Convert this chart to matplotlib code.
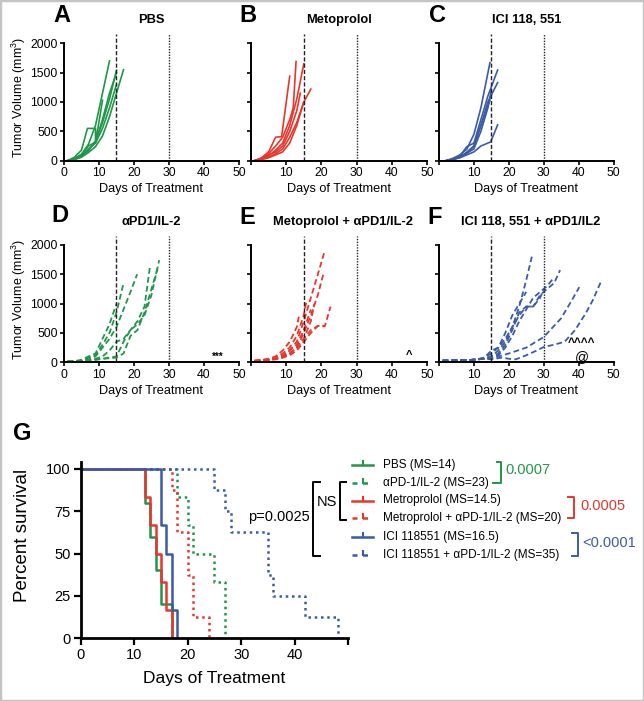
import matplotlib
matplotlib.use("Agg")
import matplotlib.pyplot as plt
from matplotlib.lines import Line2D
from matplotlib.patches import Rectangle

plt.rcParams['font.family'] = ['Liberation Sans', 'DejaVu Sans']
plt.rcParams['mathtext.fontset'] = 'custom'
plt.rcParams['mathtext.rm'] = 'Liberation Sans'

GREEN = '#21964a'
RED = '#e8362d'
BLUE = '#3b5ba5'

# ---------------- tumor growth data (days, volume mm3) ----------------
pbs_days = [[1, 3, 5, 7, 9, 11, 13],
            [1, 3, 5, 7, 9, 11, 13, 15],
            [1, 3, 5, 7, 9, 11, 13, 15, 17],
            [1, 3, 5, 6.7, 9, 9, 11],
            [1, 3, 5, 7, 9, 11, 13, 15],
            [1, 3, 5, 7, 9, 11, 13, 15]]
pbs_vol = [[0, 40, 110, 280, 600, 1150, 1700],
           [0, 30, 90, 170, 330, 650, 1050, 1540],
           [0, 20, 60, 140, 240, 420, 750, 1150, 1550],
           [0, 60, 180, 550, 550, 300, 1030],
           [0, 20, 70, 200, 300, 550, 900, 1300],
           [0, 30, 100, 250, 320, 700, 1150, 1500]]

meto_days = [[1, 3, 5, 7, 9, 11, 12, 12.8],
             [1, 3, 5, 7, 9, 11, 13, 15],
             [1, 3, 5, 7, 8.7, 11],
             [1, 3, 5, 7, 9, 11, 13, 15, 17],
             [1, 3, 5, 7, 9, 11, 13, 15],
             [1, 3, 5, 7, 9, 11, 13, 14]]
meto_vol = [[0, 40, 120, 250, 400, 700, 900, 1690],
            [0, 30, 80, 180, 300, 600, 1050, 1650],
            [0, 50, 150, 400, 410, 1440],
            [0, 20, 60, 120, 200, 400, 650, 1000, 1220],
            [0, 20, 50, 100, 150, 300, 600, 1000],
            [0, 30, 100, 150, 250, 500, 850, 1150]]

ici_days = [[2, 4, 6, 8, 10, 12, 14.6],
            [2, 4, 6, 8, 10, 12, 14, 16.8],
            [2, 4, 6, 8, 10, 12, 14, 16.8],
            [2, 4, 6, 8, 10, 12, 14.8, 16.8],
            [2, 4, 6, 8, 10, 12, 14.6],
            [2, 4, 6, 8, 10, 12, 14, 15]]
ici_vol = [[0, 40, 100, 200, 450, 900, 1670],
           [0, 30, 80, 240, 300, 700, 1100, 1545],
           [0, 20, 60, 150, 250, 600, 1000, 1330],
           [0, 20, 50, 100, 150, 250, 320, 610],
           [0, 30, 80, 120, 250, 600, 1030],
           [0, 20, 60, 130, 200, 500, 900, 1200]]

pd_days = [[1, 3, 5, 7, 9, 11, 13, 15, 16.9],
           [1, 3, 5, 7, 9, 11, 13, 15, 17, 19, 20.9],
           [1, 3, 5, 7, 9, 11, 13, 15, 17, 19, 21, 23, 24.6],
           [1, 3, 5, 7, 9, 11, 13, 15, 17, 19, 21, 23, 25, 27.2],
           [1, 3, 5, 7, 9, 11, 13, 15, 17, 19, 21, 23, 25, 27],
           [1, 3, 5, 7, 9, 11, 13, 15]]
pd_vol = [[20, 20, 30, 80, 120, 300, 500, 850, 1320],
          [10, 20, 30, 50, 100, 250, 400, 600, 900, 1200, 1500],
          [10, 15, 20, 40, 60, 100, 200, 350, 400, 550, 700, 950, 1650],
          [10, 10, 20, 30, 40, 60, 80, 100, 350, 550, 650, 800, 1150, 1740],
          [10, 10, 20, 30, 50, 60, 70, 80, 150, 450, 550, 850, 1250, 1650],
          [10, 20, 40, 100, 150, 400, 650, 1000]]

mpd_days = [[1, 3, 5, 7, 9, 11, 13, 15, 17, 19, 21],
            [1, 3, 5, 7, 9, 11, 13, 15, 17, 19, 20.5],
            [1, 3, 5, 7, 9, 11, 13, 15, 17, 19, 21, 22.6],
            [1, 3, 5, 7, 9, 11, 13, 15, 17, 19, 21],
            [1, 3, 5, 7, 9, 11, 13, 13.7],
            [1, 3, 5, 7, 9, 11, 13, 15, 15.8],
            [1, 3, 5, 7, 9, 11, 13, 15, 17],
            [1, 3, 5, 7, 9, 11, 13, 15, 17, 18]]
mpd_vol = [[30, 40, 50, 80, 120, 200, 350, 700, 1100, 1500, 1910],
           [20, 30, 40, 60, 100, 150, 250, 500, 800, 1150, 1490],
           [20, 30, 40, 50, 80, 120, 200, 350, 500, 620, 620, 950],
           [20, 30, 40, 60, 80, 150, 250, 400, 550, 620, 610],
           [30, 40, 60, 100, 200, 350, 600, 810],
           [20, 30, 50, 80, 150, 250, 450, 800, 1060],
           [20, 30, 40, 60, 100, 200, 300, 550, 900],
           [20, 30, 40, 60, 90, 150, 250, 400, 700, 1000]]

ipd_days = [[1, 3, 5, 7, 9, 11, 13, 15, 17, 19, 21, 23, 25, 26.6],
            [1, 3, 5, 7, 9, 11, 13, 15, 17, 19, 21, 23, 25, 27, 29, 31, 33, 34.7],
            [1, 3, 5, 7, 9, 11, 13, 15, 17, 19, 21, 23, 25, 27, 29, 31, 33],
            [1, 3, 5, 7, 9, 11, 13, 15, 17, 19, 21, 23, 25, 27, 29, 30],
            [1, 3, 5, 7, 9, 11, 13, 15, 17, 20, 25, 30, 35, 38, 40.2],
            [1, 3, 5, 7, 9, 11, 13, 15, 18, 20, 22, 25, 28, 30, 33, 36, 39, 42, 44, 46.6],
            [1, 3, 5, 7, 9, 11, 13, 15, 17, 19, 21, 23, 25]]
ipd_vol = [[30, 30, 40, 40, 40, 50, 60, 100, 200, 350, 600, 950, 1400, 1800],
           [30, 30, 40, 40, 40, 50, 60, 100, 150, 300, 550, 850, 950, 950, 1150, 1250, 1350, 1570],
           [30, 30, 30, 40, 40, 50, 60, 80, 120, 250, 450, 700, 900, 1100, 1200, 1300, 1450],
           [30, 30, 30, 40, 40, 50, 80, 200, 250, 400, 600, 800, 950, 950, 1100, 1250],
           [20, 30, 30, 40, 40, 50, 60, 60, 100, 150, 250, 430, 750, 1050, 1280],
           [20, 30, 30, 30, 40, 50, 60, 50, 80, 60, 50, 120, 200, 260, 300, 350, 550, 830, 1050, 1400],
           [30, 30, 40, 40, 40, 50, 80, 150, 250, 500, 800, 1000, 1200]]

# ---------------- survival data ----------------
surv_groups = ['PBS (MS=14)', 'αPD-1/IL-2 (MS=23)', 'Metroprolol (MS=14.5)',
               'Metroprolol + αPD-1/IL-2 (MS=20)', 'ICI 118551 (MS=16.5)',
               'ICI 118551 + αPD-1/IL-2 (MS=35)']
pbs_t = [0, 12, 13, 14, 15, 17]
pbs_s = [100, 80, 60, 40, 20, 0]
pd_t = [0, 18, 20, 21, 25, 27]
pd_s = [100, 83.3, 66.7, 50, 33.3, 0]
meto_t = [0, 12, 13, 14, 15, 16, 17]
meto_s = [100, 83.3, 66.7, 50, 33.3, 16.7, 0]
mpd_t = [0, 17, 18, 20, 21, 24]
mpd_s = [100, 87.5, 62.5, 37.5, 12.5, 0]
ici_t = [0, 15, 16, 17, 18]
ici_s = [100, 66.7, 50, 16.7, 0]
ipd_t = [0, 25, 27, 28, 35, 36, 42, 48]
ipd_s = [100, 87.5, 75, 62.5, 37.5, 25, 12.5, 0]

# ---------------- figure ----------------
W, H = 644, 701
fig = plt.figure(figsize=(W / 100, H / 100), dpi=100)


def ax_px(l, r, y0, ytop):
    return fig.add_axes([l / W, 1 - y0 / H, (r - l) / W, (y0 - ytop) / H])


YMAX = 2150
row1_y0, row2_y0 = 160.7, 362.3
ppu = 117.4 / 2000
cols = [(64, 239), (251, 427), (439, 613.5)]

panels = [
    ('A', 'PBS', pbs_days, pbs_vol, GREEN, '-', 0, 0),
    ('B', 'Metoprolol', meto_days, meto_vol, RED, '-', 0, 1),
    ('C', 'ICI 118, 551', ici_days, ici_vol, BLUE, '-', 0, 2),
    ('D', 'αPD1/IL-2', pd_days, pd_vol, GREEN, '--', 1, 0),
    ('E', 'Metoprolol + αPD1/IL-2', mpd_days, mpd_vol, RED, '--', 1, 1),
    ('F', 'ICI 118, 551 + αPD1/IL2', ipd_days, ipd_vol, BLUE, '--', 1, 2),
]

letter_pos = {'A': (62, 15), 'B': (248, 15), 'C': (437, 15),
              'D': (60, 216), 'E': (247, 218), 'F': (435, 218)}
title_y = {0: 20, 1: 222}

axes = {}
for letter, title, days, vols, col, ls, row, c in panels:
    l, r = cols[c]
    y0 = row1_y0 if row == 0 else row2_y0
    ax = ax_px(l, r, y0, y0 - YMAX * ppu)
    axes[letter] = ax
    for d, v in zip(days, vols):
        if ls == '-':
            ax.plot(d, v, color=col, lw=1.2, solid_joinstyle='round')
        else:
            ax.plot(d, v, color=col, lw=1.3, dashes=(3.2, 1.8))
    ax.axvline(15, color='#222222', lw=1.0, dashes=(3, 1.5))
    ax.axvline(30, color='#222222', lw=1.0, dashes=(1, 1))
    ax.set_xlim(0, 50)
    ax.set_ylim(0, YMAX)
    for s in ('top', 'right'):
        ax.spines[s].set_visible(False)
    ax.spines['left'].set_bounds(0, 2000)
    for s in ('left', 'bottom'):
        ax.spines[s].set_linewidth(1.4)
    ax.set_yticks([0, 500, 1000, 1500, 2000])
    ax.set_xticks([0, 10, 20, 30, 40, 50])
    ax.tick_params(direction='out', length=3, width=1.2, labelsize=8.8, pad=1.5)
    if c == 0:
        ax.set_ylabel('Tumor Volume (mm$^3$)', fontsize=9, labelpad=2)
    else:
        ax.set_yticklabels([])
        ax.set_xticklabels(['', '10', '20', '30', '40', '50'])
    ax.set_xlabel('Days of Treatment', fontsize=9.2, labelpad=3)
    cx = (l + r) / 2 + (4 if row == 1 and c > 0 else 0)
    fig.text(cx / W, 1 - title_y[row] / H, title, fontsize=9.3, fontweight='bold',
             ha='center', va='center')
    lx, ly = letter_pos[letter]
    fig.text(lx / W, 1 - ly / H, letter, fontsize=17, fontweight='bold',
             ha='center', va='center')

axes['D'].text(44, 95, '***', fontsize=7, fontweight='bold', ha='center', va='center')
axes['E'].text(44.9, 130, '^', fontsize=8, fontweight='bold', ha='center', va='center')
axes['F'].text(40.9, 280, '^^^^', fontsize=8.5, fontweight='bold', ha='center', va='baseline')
axes['F'].text(40.9, 30, '@', fontsize=10, ha='center', va='baseline')

# ---------------- panel G ----------------
axg = ax_px(80.7, 348.2, 638, 638 - 104 * 1.69)
dot = (1, 1.5)
axg.step(pd_t, pd_s, where='post', color=GREEN, lw=1.8, dashes=dot)
axg.step(mpd_t, mpd_s, where='post', color=RED, lw=1.8, dashes=dot)
axg.step(ipd_t, ipd_s, where='post', color=BLUE, lw=1.8, dashes=dot)
axg.step(pbs_t, pbs_s, where='post', color=GREEN, lw=1.8)
axg.step(meto_t, meto_s, where='post', color=RED, lw=1.8)
axg.step(ici_t, ici_s, where='post', color=BLUE, lw=1.8)
axg.set_xlim(0, 50)
axg.set_ylim(0, 104)
for s in ('top', 'right'):
    axg.spines[s].set_visible(False)
for s in ('left', 'bottom'):
    axg.spines[s].set_linewidth(2)
axg.set_xticks([0, 10, 20, 30, 40, 50])
axg.set_xticklabels(['0', '10', '20', '30', '40', ''])
axg.set_yticks([0, 25, 50, 75, 100])
axg.tick_params(direction='out', length=5, width=1.6, labelsize=10.5, pad=2)
axg.set_xlabel('Days of Treatment', fontsize=12.5, labelpad=7)
axg.set_ylabel('Percent survival', fontsize=13.5)
axg.yaxis.set_label_coords(-0.185, 0.585)
fig.text(22 / W, 1 - 433 / H, 'G', fontsize=17, fontweight='bold', ha='center', va='center')

# legend (drawn in figure pixel coordinates)
leg_y = [465, 483, 500.5, 518, 537, 555]
leg_col = [GREEN, GREEN, RED, RED, BLUE, BLUE]
leg_dot = [False, True, False, True, False, True]


def fline(xs, ys, **kw):
    fig.add_artist(Line2D([x / W for x in xs], [1 - y / H for y in ys],
                          transform=fig.transFigure, **kw))


for y, col, dotted, lab in zip(leg_y, leg_col, leg_dot, surv_groups):
    if dotted:
        fline([352, 373], [y, y], color=col, lw=1.8, dashes=(2, 2.2))
    else:
        fline([352, 373], [y, y], color=col, lw=1.8)
    fline([362.5, 362.5], [y, y - 4], color=col, lw=1.5)
    fig.text(383 / W, 1 - y / H, lab, fontsize=8.5, ha='left', va='center')

# brackets
fline([497, 501, 501, 493], [462, 462, 483, 483], color=GREEN, lw=1.4)
fig.text(505 / W, 1 - 470 / H, '0.0007', fontsize=10.5, color=GREEN, ha='left', va='center')
fline([568, 574, 574, 568], [497, 497, 518, 518], color=RED, lw=1.4)
fig.text(580 / W, 1 - 506 / H, '0.0005', fontsize=10.5, color=RED, ha='left', va='center')
fline([572, 578, 578, 572], [533, 533, 556, 556], color=BLUE, lw=1.4)
fig.text(582 / W, 1 - 543 / H, '<0.0001', fontsize=10.5, color=BLUE, ha='left', va='center')
fline([346, 340, 340, 346], [482, 482, 520, 520], color='black', lw=1.4)
fig.text(327 / W, 1 - 502 / H, 'NS', fontsize=10.5, ha='center', va='center')
fline([320, 313, 313, 320], [482, 482, 556, 556], color='black', lw=1.4)
fig.text(310 / W, 1 - 517 / H, 'p=0.0025', fontsize=10.5, ha='right', va='center')

fig.patches.append(Rectangle((0, 0), 1, 1, transform=fig.transFigure, fill=False,
                             edgecolor='#c4c4c4', lw=2.5))

fig.savefig('out.png', dpi=100)
